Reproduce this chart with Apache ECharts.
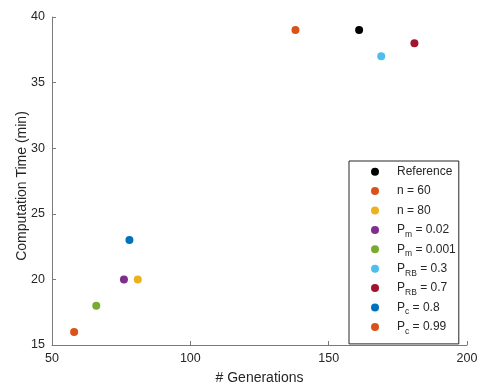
<!DOCTYPE html>
<html>
<head>
<meta charset="utf-8">
<script src="https://cdn.jsdelivr.net/npm/echarts@6/dist/echarts.min.js"></script>
<style>
  html, body { margin: 0; padding: 0; background: #fff; }
  #chart { width: 482px; height: 387px; }
</style>
</head>
<body>
<div id="chart"></div>
<script>
// one point per run configuration
const seriesNames = ['Reference', 'n = 60', 'n = 80', 'Pm = 0.02', 'Pm = 0.001', 'PRB = 0.3', 'PRB = 0.7', 'Pc = 0.8', 'Pc = 0.99']
const generations = [161, 138, 81, 76, 66, 169, 181, 78, 58]
const compTime = [39, 39, 20, 20, 18, 37, 38, 23, 16]
const colors = ['#000000', '#D95319', '#EDB120', '#7E2F8E', '#77AC30', '#4DBEEE', '#A2142F', '#0072BD', '#D95319']

// legend label pieces: main text, subscript, rest
const labelMain = ['Reference', 'n = 60', 'n = 80', 'P', 'P', 'P', 'P', 'P', 'P']
const labelSub = ['', '', '', 'm', 'm', 'RB', 'RB', 'c', 'c']
const labelTail = ['', '', '', ' = 0.02', ' = 0.001', ' = 0.3', ' = 0.7', ' = 0.8', ' = 0.99']

const xTicks = { min: 50, max: 200, interval: 50 }
const yTicks = { min: 15, max: 40, interval: 5 }

const font = 'Liberation Sans, Arial, sans-serif'
const textColor = '#262626'
const lineColor = '#7a7a7a'

const chart = echarts.init(document.getElementById('chart'), null, { renderer: 'canvas' })

const series = seriesNames.map((name, i) => ({
  name: name,
  type: 'scatter',
  symbol: 'circle',
  symbolSize: 8,
  data: [[generations[i], compTime[i]]],
  itemStyle: { color: colors[i], opacity: 1 }
}))

function legendLabel(name) {
  const i = seriesNames.indexOf(name)
  const sub = labelSub[i] ? '{s|' + labelSub[i] + '}' : '{s| }'
  const tail = labelTail[i] ? '{a|' + labelTail[i] + '}' : ''
  return '{p|' + labelMain[i] + '}' + sub + tail
}

const option = {
  animation: false,
  color: colors,
  grid: { left: 52, right: 15, top: 17, bottom: 42, outerBoundsMode: 'none', containLabel: false },
  xAxis: {
    type: 'value',
    min: xTicks.min,
    max: xTicks.max,
    interval: xTicks.interval,
    name: '# Generations',
    nameLocation: 'middle',
    nameGap: 26,
    nameMoveOverlap: false,
    nameTextStyle: { fontFamily: font, fontSize: 14, color: textColor },
    axisLine: { lineStyle: { color: lineColor, width: 1 } },
    axisTick: { inside: true, length: 4, lineStyle: { color: lineColor } },
    axisLabel: { margin: 7, fontFamily: font, fontSize: 12.5, color: textColor },
    splitLine: { show: false }
  },
  yAxis: {
    type: 'value',
    min: yTicks.min,
    max: yTicks.max,
    interval: yTicks.interval,
    name: 'Computation Time (min)',
    nameLocation: 'middle',
    nameGap: 23,
    nameMoveOverlap: false,
    nameTextStyle: { fontFamily: font, fontSize: 14, color: textColor, padding: [0, 10, 0, 0] },
    axisLine: { show: true, lineStyle: { color: lineColor, width: 1 } },
    axisTick: { show: true, inside: true, length: 4, lineStyle: { color: lineColor } },
    axisLabel: { margin: 7, fontFamily: font, fontSize: 12.5, color: textColor },
    splitLine: { show: false }
  },
  legend: {
    data: seriesNames,
    orient: 'vertical',
    left: 349,
    top: 161,
    padding: [4.7, 3, 8, 22],
    itemGap: 4.4,
    itemWidth: 8,
    itemHeight: 8,
    icon: 'circle',
    backgroundColor: '#fff',
    borderColor: '#262626',
    borderWidth: 1,
    borderRadius: 0,
    formatter: legendLabel,
    textStyle: {
      fontFamily: font,
      color: textColor,
      rich: {
        p: { fontFamily: font, fontSize: 12, color: textColor, lineHeight: 18, padding: [0, 0, 0, 13] },
        a: { fontFamily: font, fontSize: 12, color: textColor, lineHeight: 18 },
        s: { fontFamily: font, fontSize: 8.5, color: textColor, lineHeight: 8, verticalAlign: 'bottom' }
      }
    }
  },
  series: series
}

chart.setOption(option)
</script>
</body>
</html>
